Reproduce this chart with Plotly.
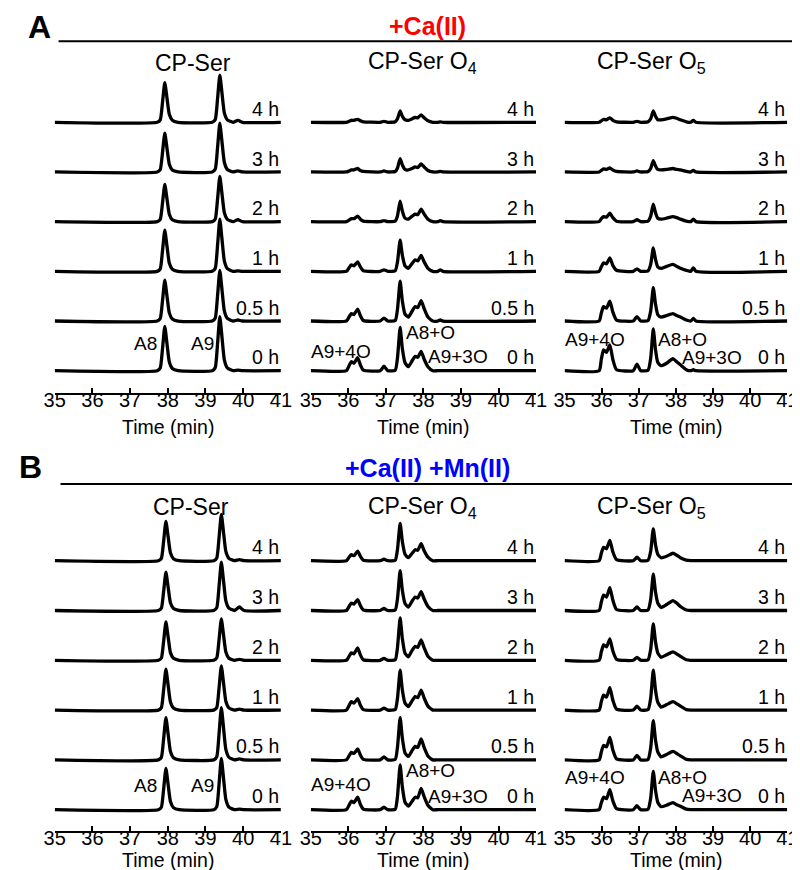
import plotly.graph_objects as go

# ---------------- data (intensity, 1 unit = trace spacing) -------------
HOURS = ["0 h", "0.5 h", "1 h", "2 h", "3 h", "4 h"]
TICKS = [35, 36, 37, 38, 39, 40, 41]

T_SER_A = [35.0, 37.72, 37.8, 37.86, 37.92, 37.98, 38.04, 38.12, 38.27, 39.18, 39.26, 39.32,
           39.38, 39.44, 39.5, 39.58, 39.73, 39.86, 39.98, 41.0]
SER_A = [
    [0, 0, 0.053, 0.445, 0.89, 0.534, 0.178, 0.045, 0, 0, 0.065, 0.545, 1.09, 0.654, 0.218, 0.055, 0, 0.01, 0, 0],
    [0, 0, 0.049, 0.41, 0.82, 0.492, 0.164, 0.041, 0, 0, 0.061, 0.51, 1.02, 0.612, 0.204, 0.051, 0, 0.02, 0, 0],
    [0, 0, 0.05, 0.415, 0.83, 0.498, 0.166, 0.042, 0, 0, 0.063, 0.525, 1.05, 0.63, 0.21, 0.053, 0, 0.01, 0, 0],
    [0, 0, 0.045, 0.375, 0.75, 0.45, 0.15, 0.038, 0, 0, 0.055, 0.455, 0.91, 0.546, 0.182, 0.046, 0, 0.04, 0, 0],
    [0, 0, 0.047, 0.39, 0.78, 0.468, 0.156, 0.039, 0, 0, 0.059, 0.49, 0.98, 0.588, 0.196, 0.049, 0, 0.02, 0, 0],
    [0, 0, 0.048, 0.4, 0.8, 0.48, 0.16, 0.04, 0, 0, 0.057, 0.475, 0.95, 0.57, 0.19, 0.048, 0, 0.04, 0, 0],
]

T_SER_B = [35.0, 37.75, 37.83, 37.89, 37.95, 38.01, 38.07, 38.15, 38.3, 39.22, 39.3, 39.36,
           39.42, 39.48, 39.54, 39.62, 39.77, 39.9, 40.02, 41.0]
SER_B = [
    [0, 0, 0.05, 0.415, 0.83, 0.498, 0.166, 0.042, 0, 0, 0.062, 0.515, 1.03, 0.618, 0.206, 0.052, 0, 0.01, 0, 0],
    [0, 0, 0.051, 0.425, 0.85, 0.51, 0.17, 0.043, 0, 0, 0.063, 0.525, 1.05, 0.63, 0.21, 0.053, 0, 0.02, 0, 0],
    [0, 0, 0.049, 0.41, 0.82, 0.492, 0.164, 0.041, 0, 0, 0.053, 0.445, 0.89, 0.534, 0.178, 0.045, 0, 0.02, 0, 0],
    [0, 0, 0.046, 0.385, 0.77, 0.462, 0.154, 0.039, 0, 0, 0.05, 0.415, 0.83, 0.498, 0.166, 0.042, 0, 0.02, 0, 0],
    [0, 0, 0.046, 0.385, 0.77, 0.462, 0.154, 0.039, 0, 0, 0.058, 0.485, 0.97, 0.582, 0.194, 0.049, 0, 0.07, 0, 0],
    [0, 0, 0.047, 0.395, 0.79, 0.474, 0.158, 0.04, 0, 0, 0.056, 0.465, 0.93, 0.558, 0.186, 0.047, 0, 0.02, 0, 0],
]

T_O4 = [35.0, 35.95, 36.02, 36.08, 36.15, 36.25, 36.32, 36.4, 36.85, 36.95, 37.05, 37.25, 37.31,
        37.38, 37.44, 37.51, 37.6, 37.7, 37.78, 37.85, 37.94, 38.02, 38.12, 38.25, 38.38, 38.45,
        38.52, 41.0]
O4_A = [
    [0, 0, 0.1, 0.18, 0.15, 0.26, 0.12, 0.01, 0, 0.09, 0, 0.01, 0.26, 0.87, 0.44, 0.16, 0.08, 0.2, 0.29, 0.27, 0.39, 0.23, 0.08, 0, 0, 0, 0, 0],
    [0, 0, 0.08, 0.15, 0.13, 0.24, 0.11, 0.01, 0, 0.06, 0, 0.01, 0.24, 0.8, 0.4, 0.14, 0.08, 0.2, 0.29, 0.27, 0.41, 0.25, 0.08, 0, 0, 0.02, 0, 0],
    [0, 0, 0.07, 0.13, 0.11, 0.19, 0.09, 0.01, 0, 0.03, 0, 0.01, 0.19, 0.63, 0.32, 0.11, 0.06, 0.16, 0.23, 0.21, 0.32, 0.19, 0.06, 0, 0, 0.03, 0, 0],
    [0, 0, 0.03, 0.06, 0.06, 0.11, 0.05, 0.01, 0, 0.02, 0, 0.01, 0.12, 0.41, 0.21, 0.07, 0.05, 0.11, 0.15, 0.14, 0.25, 0.15, 0.05, 0, 0, 0.02, 0, 0],
    [0, 0, 0.02, 0.04, 0.04, 0.07, 0.03, 0.01, 0, 0.02, 0, 0.01, 0.08, 0.27, 0.14, 0.05, 0.04, 0.07, 0.1, 0.09, 0.16, 0.1, 0.03, 0, 0, 0.01, 0, 0],
    [0, 0, 0.02, 0.04, 0.04, 0.06, 0.03, 0.01, 0, 0.02, 0, 0.01, 0.07, 0.23, 0.12, 0.05, 0.04, 0.07, 0.1, 0.09, 0.15, 0.09, 0.03, 0, 0, 0.01, 0, 0],
]
O4_B = [
    [0, 0, 0.09, 0.17, 0.14, 0.25, 0.11, 0.01, 0, 0.05, 0, 0.01, 0.27, 0.9, 0.45, 0.15, 0.07, 0.17, 0.25, 0.24, 0.43, 0.26, 0.09, 0, 0, 0, 0, 0],
    [0, 0, 0.08, 0.15, 0.13, 0.22, 0.1, 0.01, 0, 0.06, 0, 0.01, 0.26, 0.85, 0.43, 0.14, 0.07, 0.19, 0.27, 0.25, 0.42, 0.25, 0.08, 0, 0, 0, 0, 0],
    [0, 0, 0.09, 0.17, 0.14, 0.23, 0.1, 0.01, 0, 0.04, 0, 0.01, 0.24, 0.8, 0.4, 0.14, 0.07, 0.19, 0.27, 0.25, 0.4, 0.24, 0.08, 0, 0, 0, 0, 0],
    [0, 0, 0.08, 0.15, 0.13, 0.25, 0.11, 0.01, 0, 0.04, 0, 0.01, 0.26, 0.85, 0.43, 0.14, 0.07, 0.2, 0.28, 0.26, 0.41, 0.25, 0.08, 0, 0, 0, 0, 0],
    [0, 0, 0.08, 0.15, 0.13, 0.22, 0.1, 0.01, 0, 0.04, 0, 0.01, 0.24, 0.8, 0.4, 0.14, 0.07, 0.19, 0.27, 0.25, 0.38, 0.23, 0.08, 0, 0, 0, 0, 0],
    [0, 0, 0.07, 0.12, 0.1, 0.19, 0.09, 0.01, 0, 0.03, 0, 0.01, 0.23, 0.75, 0.38, 0.13, 0.06, 0.15, 0.22, 0.21, 0.34, 0.2, 0.07, 0, 0, 0, 0, 0],
]

T_O5 = [35.0, 35.93, 35.99, 36.05, 36.13, 36.22, 36.3, 36.4, 36.85, 36.95, 37.05, 37.25, 37.32,
        37.39, 37.45, 37.51, 37.6, 37.75, 37.92, 38.02, 38.12, 38.28, 38.4, 38.47, 38.54, 41.0]
O5_A = [
    [0, 0, 0.23, 0.42, 0.37, 0.52, 0.23, 0.02, 0, 0.13, 0, 0.01, 0.25, 0.84, 0.42, 0.17, 0.1, 0.15, 0.24, 0.18, 0.12, 0.02, 0, 0.02, 0, 0],
    [0, 0, 0.16, 0.29, 0.26, 0.4, 0.18, 0.02, 0, 0.09, 0, 0.01, 0.2, 0.67, 0.34, 0.13, 0.08, 0.11, 0.15, 0.11, 0.08, 0.02, 0, 0.05, 0, 0],
    [0, 0, 0.09, 0.17, 0.15, 0.27, 0.12, 0.02, 0, 0.05, 0, 0.01, 0.14, 0.47, 0.24, 0.09, 0.06, 0.1, 0.14, 0.1, 0.06, 0.02, 0, 0.07, 0, 0],
    [0, 0, 0.06, 0.1, 0.09, 0.17, 0.08, 0.01, 0, 0.04, 0, 0.01, 0.11, 0.35, 0.18, 0.07, 0.05, 0.07, 0.1, 0.08, 0.05, 0.01, 0, 0.05, 0, 0],
    [0, 0, 0.03, 0.06, 0.05, 0.08, 0.04, 0.01, 0, 0.02, 0, 0.01, 0.07, 0.23, 0.12, 0.05, 0.04, 0.05, 0.07, 0.05, 0.04, 0.01, 0, 0.03, 0, 0],
    [0, 0, 0.03, 0.06, 0.05, 0.09, 0.04, 0.01, 0, 0.02, 0, 0.01, 0.07, 0.23, 0.12, 0.05, 0.05, 0.07, 0.1, 0.08, 0.05, 0.01, 0, 0.04, 0, 0],
]
O5_B = [
    [0, 0, 0.14, 0.25, 0.22, 0.4, 0.18, 0.02, 0, 0.08, 0, 0.01, 0.23, 0.77, 0.39, 0.15, 0.06, 0.09, 0.14, 0.1, 0.07, 0.01, 0, 0, 0, 0],
    [0, 0, 0.16, 0.29, 0.26, 0.45, 0.2, 0.02, 0, 0.09, 0, 0.01, 0.24, 0.79, 0.4, 0.16, 0.06, 0.11, 0.17, 0.13, 0.08, 0.01, 0, 0, 0, 0],
    [0, 0, 0.17, 0.3, 0.26, 0.45, 0.2, 0.02, 0, 0.08, 0, 0.01, 0.24, 0.8, 0.4, 0.16, 0.06, 0.11, 0.17, 0.13, 0.08, 0.01, 0, 0, 0, 0],
    [0, 0, 0.17, 0.31, 0.27, 0.43, 0.19, 0.02, 0, 0.06, 0, 0.01, 0.22, 0.73, 0.37, 0.15, 0.06, 0.11, 0.17, 0.13, 0.08, 0.01, 0, 0, 0, 0],
    [0, 0, 0.17, 0.31, 0.27, 0.46, 0.21, 0.02, 0, 0.07, 0, 0.01, 0.22, 0.73, 0.37, 0.15, 0.06, 0.12, 0.2, 0.15, 0.08, 0.01, 0, 0, 0, 0],
    [0, 0, 0.15, 0.27, 0.24, 0.41, 0.18, 0.02, 0, 0.07, 0, 0.01, 0.19, 0.64, 0.32, 0.13, 0.06, 0.09, 0.15, 0.11, 0.06, 0.01, 0, 0, 0, 0],
]

PANEL_TITLES = ["CP-Ser", "CP-Ser O<sub>4</sub>", "CP-Ser O<sub>5</sub>"]
ROW_HEADERS = ["+Ca(II)", "+Ca(II) +Mn(II)"]
ROW_HEADER_COLORS = ["#ff0000", "#0000ff"]
ROW_LETTERS = ["A", "B"]

# peak labels: (text, time, height above 0 h baseline)
LABELS_SER_A = [("A8", 37.41, 0.54), ("A9", 38.91, 0.54)]
LABELS_SER_B = [("A8", 37.41, 0.49), ("A9", 38.91, 0.49)]
LABELS_O4_A = [("A9+4O", 35.81, 0.39), ("A8+O", 38.19, 0.77), ("A9+3O", 38.91, 0.29)]
LABELS_O4_B = [("A9+4O", 35.81, 0.50), ("A8+O", 38.19, 0.78), ("A9+3O", 38.91, 0.26)]
LABELS_O5_A = [("A9+4O", 35.82, 0.63), ("A8+O", 38.18, 0.63), ("A9+3O", 38.98, 0.27)]
LABELS_O5_B = [("A9+4O", 35.82, 0.65), ("A8+O", 38.18, 0.65), ("A9+3O", 38.97, 0.28)]

# ---------------- layout geometry (pixels) ----------------
W, H = 800, 870
FONT = "Liberation Sans, Arial, Helvetica, sans-serif"
COL_PX = [(36.7, 269.3), (300.0, 531.7), (561.0, 790.0)]
ROW_GEOM = [
    dict(bottom=385.0, top=40.0, yr=[-0.449, 6.495]),
    dict(bottom=823.3, top=480.0, yr=[-0.434, 6.46]),
]


def px(x):
    return x / W


def py(y):
    return 1 - y / H


panels = [
    (0, 0, T_SER_A, SER_A, LABELS_SER_A),
    (0, 1, T_O4, O4_A, LABELS_O4_A),
    (0, 2, T_O5, O5_A, LABELS_O5_A),
    (1, 0, T_SER_B, SER_B, LABELS_SER_B),
    (1, 1, T_O4, O4_B, LABELS_O4_B),
    (1, 2, T_O5, O5_B, LABELS_O5_B),
]

fig = go.Figure()
annotations = []
layout_axes = {}

for k, (r, c, T, data, labels) in enumerate(panels):
    n = k + 1
    xa = "x" if n == 1 else f"x{n}"
    ya = "y" if n == 1 else f"y{n}"
    for i, vals in enumerate(data):
        fig.add_trace(go.Scatter(
            x=T, y=[v + i for v in vals], mode="lines",
            line=dict(color="black", width=3.3, shape="spline", smoothing=0.5),
            xaxis=xa, yaxis=ya, showlegend=False, hoverinfo="skip", cliponaxis=False,
        ))
        annotations.append(dict(
            x=41, y=i + 0.27, xref=xa, yref=ya, text=HOURS[i], showarrow=False,
            xanchor="right", yanchor="middle", font=dict(size=19.5, color="black", family=FONT),
        ))
    for (txt, tx, ty) in labels:
        annotations.append(dict(
            x=tx, y=ty, xref=xa, yref=ya, text=txt, showarrow=False,
            xanchor="center", yanchor="middle", font=dict(size=19, color="black", family=FONT),
        ))
    g = ROW_GEOM[r]
    x0, x1 = COL_PX[c]
    layout_axes["xaxis" if n == 1 else f"xaxis{n}"] = dict(
        domain=[px(x0), px(x1)], range=[35, 41], anchor=ya,
        showline=True, linewidth=1.7, linecolor="black", mirror=False,
        ticks="inside", ticklen=5, tickwidth=1.7, tickcolor="black",
        tickvals=TICKS, ticktext=[str(t) for t in TICKS], ticklabelstandoff=-12,
        tickfont=dict(size=20, color="black", family=FONT),
        showgrid=False, zeroline=False, fixedrange=True,
    )
    layout_axes["yaxis" if n == 1 else f"yaxis{n}"] = dict(
        domain=[py(g["bottom"]), py(g["top"])], range=g["yr"], anchor=xa,
        visible=False, showgrid=False, zeroline=False, fixedrange=True,
    )

TITLE_X = [[179, 415, 650], [177, 415, 650]]
TITLE_Y = [55, 499]
TIME_Y = [419, 852]
for r in range(2):
    for c in range(3):
        annotations.append(dict(
            x=px(TITLE_X[r][c]), y=py(TITLE_Y[r]), xref="paper", yref="paper",
            text=PANEL_TITLES[c], showarrow=False, xanchor="center", yanchor="middle",
            font=dict(size=23, color="black", family=FONT),
        ))
        x0, x1 = COL_PX[c]
        annotations.append(dict(
            x=px((x0 + x1) / 2), y=py(TIME_Y[r]), xref="paper", yref="paper",
            text="Time (min)", showarrow=False, xanchor="center", yanchor="middle",
            font=dict(size=19.5, color="black", family=FONT),
        ))

LETTER_POS = [(21, 19), (12, 459)]
HEADER_Y = [18, 460]
LINE_Y = [33.3, 476.0]
LINE_X0 = [40.7, 42.7]
shapes = []
for r in range(2):
    annotations.append(dict(
        x=px(LETTER_POS[r][0]), y=py(LETTER_POS[r][1]), xref="paper", yref="paper",
        text=ROW_LETTERS[r], showarrow=False, xanchor="center", yanchor="middle",
        font=dict(size=32, color="black", family=FONT, weight="bold"),
    ))
    annotations.append(dict(
        x=px(420), y=py(HEADER_Y[r]), xref="paper", yref="paper",
        text=ROW_HEADERS[r], showarrow=False, xanchor="center", yanchor="middle",
        font=dict(size=25, color=ROW_HEADER_COLORS[r], family=FONT, weight="bold"),
    ))
    shapes.append(dict(
        type="line", xref="paper", yref="paper",
        x0=px(LINE_X0[r]), x1=1.0, y0=py(LINE_Y[r]), y1=py(LINE_Y[r]),
        line=dict(color="black", width=2),
    ))

fig.update_layout(
    width=W, height=H, margin=dict(l=0, r=0, t=0, b=0),
    paper_bgcolor="white", plot_bgcolor="white",
    annotations=annotations, shapes=shapes,
    font=dict(family=FONT, color="black"),
    **layout_axes,
)

fig.write_html("out.html")
